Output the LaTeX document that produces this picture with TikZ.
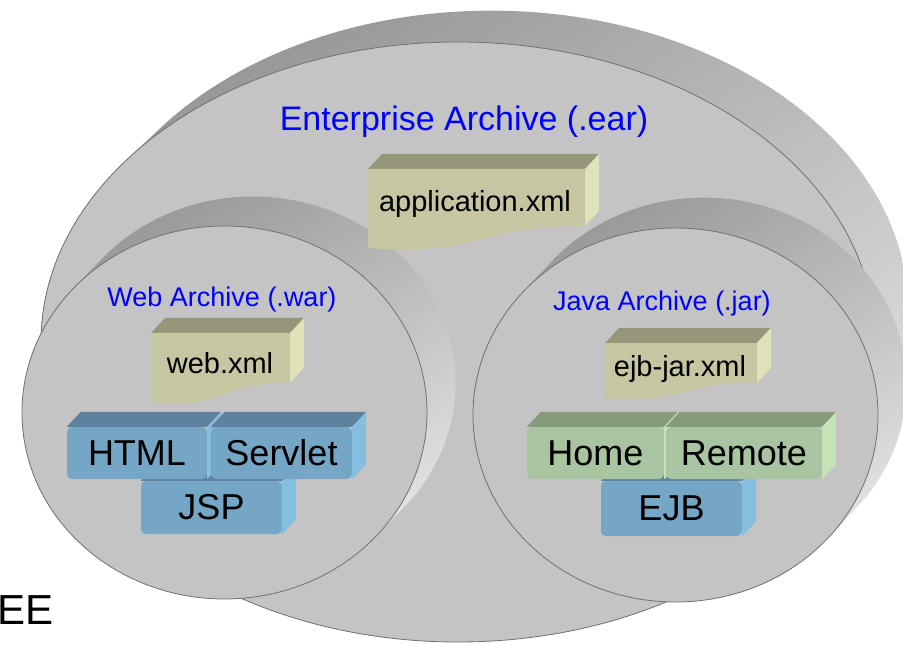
\documentclass[tikz,border=0pt]{standalone}
\usepackage{fontspec}
\setmainfont{Liberation Sans}
\usepackage{tikz}
\usetikzlibrary{positioning}

\definecolor{discfront}{RGB}{196,196,196}
\definecolor{discedge}{RGB}{112,112,112}
\definecolor{discdark}{RGB}{150,150,150}
\definecolor{disclight}{RGB}{230,230,230}
\definecolor{doctop}{RGB}{150,150,122}
\definecolor{docfront}{RGB}{198,198,162}
\definecolor{docside}{RGB}{226,226,186}
\definecolor{bluetop}{RGB}{94,130,158}
\definecolor{bluefront}{RGB}{118,166,198}
\definecolor{blueside}{RGB}{134,190,224}
\definecolor{greentop}{RGB}{134,154,124}
\definecolor{greenfront}{RGB}{168,196,160}
\definecolor{greenside}{RGB}{196,228,184}
\definecolor{titleblue}{RGB}{0,0,255}

% top and right face of a block node
\newcommand{\blockfaces}[2]{%
  \fill[#2top] (#1.north west) -- ++(14,-15) -- ([shift={(14,-15)}]#1.north east) -- (#1.north east) -- cycle;
  \fill[#2side] (#1.north east) -- ++(14,-15) -- ([shift={(14,-15)}]#1.south east) -- (#1.south east) -- cycle;
}
% xml document: left, top, width, height
\newcommand{\xmldoc}[4]{%
  \fill[doctop] (#1,#2) -- ++(14,-15) -- ++(#3,0) -- ++(-14,15) -- cycle;
  \fill[docside] (#1+#3,#2) -- ++(14,-15) -- ++(0,0.72*#4) -- ++(-14,15) -- cycle;
  \fill[docfront] (#1,#2) -- (#1+#3,#2) -- (#1+#3,#2+0.72*#4)
    .. controls (#1+0.5*#3,#2+0.72*#4) and (#1+0.5*#3,#2+1.12*#4) .. (#1,#2+#4) -- cycle;
}

\begin{document}
\begin{tikzpicture}[x=1pt, y=-1pt,
  disc/.style={fill=discfront, draw=discedge, line width=0.8pt},
  rim/.style={top color=discdark, bottom color=disclight, shading angle=30},
  arctitle/.style={text=titleblue, inner sep=0pt, font=\fontsize{27pt}{27pt}\selectfont},
  bigtitle/.style={arctitle, font=\fontsize{34pt}{34pt}\selectfont},
  doclabel/.style={inner sep=0pt, font=\fontsize{29pt}{29pt}\selectfont},
  block/.style={fill=#1front, rounded corners=5pt, inner sep=0pt, minimum height=52pt,
    font=\fontsize{36pt}{36pt}\selectfont}]
  \useasboundingbox (0,0) rectangle (903,647);

  % ear
  \begin{scope}
    \clip foreach \t in {0,0.05,...,1} {(458+35*\t,342-33*\t) ellipse [x radius=417pt, y radius=300pt]};
    \shade[rim] (40,8) rectangle (912,644);
  \end{scope}
  \draw[disc] (458,342) ellipse [x radius=417pt, y radius=300pt];

  % war
  \begin{scope}
    \clip foreach \t in {0,0.05,...,1} {(224.5+30*\t,412.5-31*\t) ellipse [x radius=202.5pt, y radius=186.5pt]};
    \shade[rim] (20,180) rectangle (460,600);
  \end{scope}
  \draw[disc] (224.5,412.5) ellipse [x radius=202.5pt, y radius=186.5pt];

  % jar
  \begin{scope}
    \clip foreach \t in {0,0.05,...,1} {(675.5+30*\t,415-32*\t) ellipse [x radius=202.5pt, y radius=187pt]};
    \shade[rim] (470,180) rectangle (912,604);
  \end{scope}
  \draw[disc] (675.5,415) ellipse [x radius=202.5pt, y radius=187pt];

  \node[bigtitle, anchor=base] (ear) at (464,131) {Enterprise Archive (.ear)};
  \node[arctitle, anchor=base] (war) at (222,307) {Web Archive (.war)};
  \node[arctitle, anchor=base] (jar) at (662,311) {Java Archive (.jar)};

  \xmldoc{368}{169}{217}{79}
  \node[doclabel, anchor=base] (appxml) at (475,212) {application.xml};
  \xmldoc{151}{333}{139}{69}
  \node[doclabel, anchor=base] (webxml) at (220,373) {web.xml};
  \xmldoc{605}{343}{152}{55}
  \node[doclabel, anchor=base] (ejbxml) at (680,377) {ejb-jar.xml};

  \node[block=blue, minimum width=141pt, minimum height=53pt] (jsp) at (211.5,507.5) {JSP};
  \blockfaces{jsp}{blue}
  \node[block=blue, minimum width=140pt] (html) at (137,453) {HTML};
  \blockfaces{html}{blue}
  \node[block=blue, minimum width=141pt] (servlet) at (281.5,453) {Servlet};
  \blockfaces{servlet}{blue}

  \node[block=blue, minimum width=141pt, minimum height=55pt] (ejb) at (671.5,508.5) {EJB};
  \blockfaces{ejb}{blue}
  \node[block=green, minimum width=137pt] (home) at (595.5,453) {Home};
  \blockfaces{home}{green}
  \node[block=green, minimum width=156pt] (remote) at (744,453) {Remote};
  \blockfaces{remote}{green}

  \node[anchor=base west, inner sep=0pt, font=\fontsize{42pt}{42pt}\selectfont] (ee) at (-3,624) {EE};
\end{tikzpicture}
\end{document}
